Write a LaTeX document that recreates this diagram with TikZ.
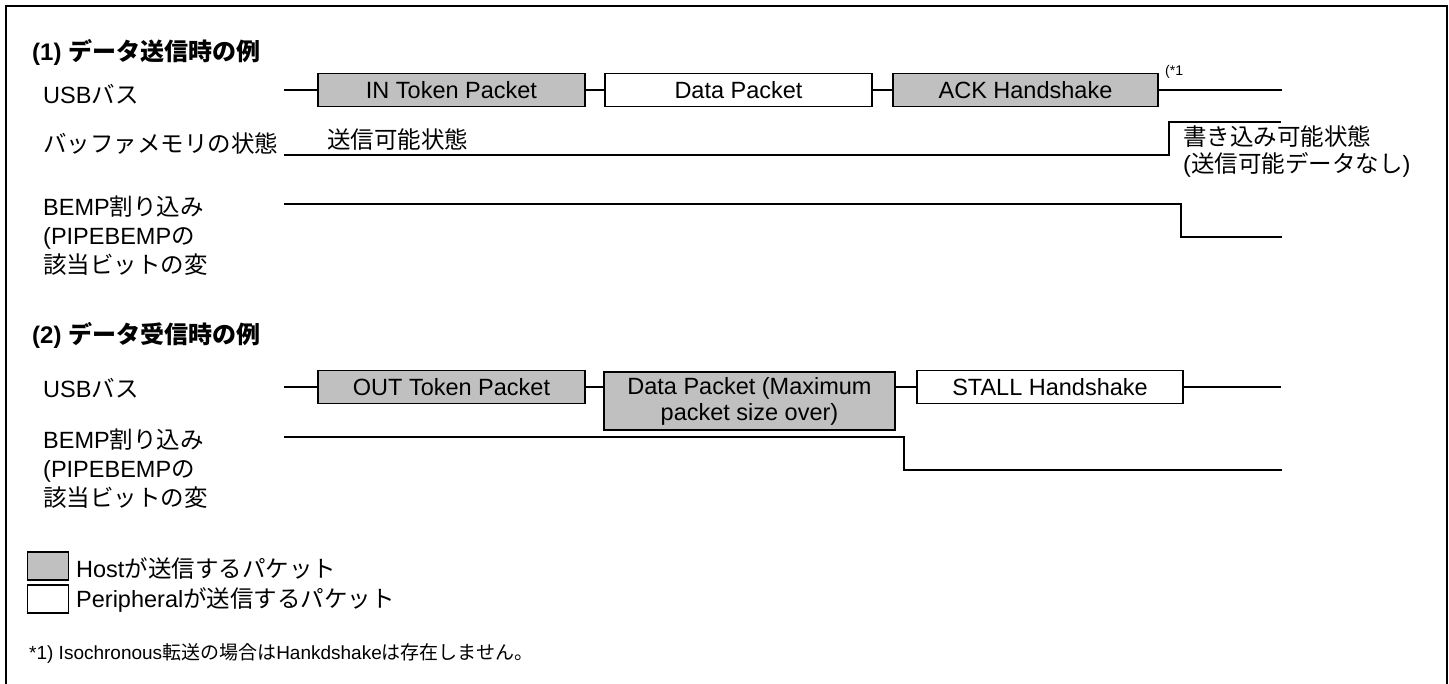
\documentclass[tikz,border=0pt]{standalone}
\usepackage{fontspec}
\setmainfont{Liberation Sans}
\newfontfamily\jpfont{Noto Sans CJK JP}
\newcommand{\ja}[1]{{\jpfont #1}}
\definecolor{hostgray}{HTML}{C0C0C0}

\begin{document}
\begin{tikzpicture}[x=1pt,y=-1pt]
\tikzset{every node/.style={inner sep=0pt,font=\fontsize{23.5}{29}\selectfont}}
\tikzset{label text/.style={anchor=west,align=left}}
\tikzset{title text/.style={anchor=west,font=\fontsize{24}{29}\selectfont\bfseries}}
\tikzset{packet/.style={draw,line width=1.8pt,minimum height=33pt,align=center}}
\tikzset{host packet/.style={packet,fill=hostgray}}
\tikzset{signal/.style={line width=1.6pt}}

\useasboundingbox (0,0) rectangle (1449,683);
\draw[line width=2.5pt] (6,690) -- (6,6) -- (1447,6) -- (1447,690);

\node[title text] (title1) at (32,52) {(1) \ja{データ送信時の例}};
\node[label text] (usb1) at (43,94) {USB\ja{バス}};
\node[label text] (buf1) at (43,143) {\ja{バッファメモリの状態}};
\node[label text] (bemp1) at (43,236) {BEMP\ja{割り込み}\\(PIPEBEMP\ja{の}\\\ja{該当ビットの変}};

\coordinate (u1s) at (284,90);
\coordinate (u1e) at (1282,90);
\node[host packet,minimum width=267pt] (intok) at (451.5,90) {IN Token Packet};
\node[packet,minimum width=267pt] (data1) at (738.5,90) {Data Packet};
\node[host packet,minimum width=265pt] (ack) at (1025.5,90) {ACK Handshake};
\node[anchor=west,font=\fontsize{14}{16}\selectfont] (note1) at (1165,72) {(*1};
\draw[signal] (u1s) -- (intok.west);
\draw[signal] (intok.east) -- (data1.west);
\draw[signal] (data1.east) -- (ack.west);
\draw[signal] (ack.east) -- (u1e);

\coordinate (b1s) at (284,155);
\coordinate (b1x) at (1169,122);
\coordinate (b1e) at (1281,122);
\draw[signal] (b1s) -| (b1x) -- (b1e);
\node[label text] (sendok) at (327,140) {\ja{送信可能状態}};
\node[label text,font=\fontsize{23.5}{27}\selectfont] (writeok) at (1183,151) {\ja{書き込み可能状態}\\(\ja{送信可能データなし})};

\coordinate (e1s) at (284,204);
\coordinate (e1x) at (1181,237);
\coordinate (e1e) at (1282,237);
\draw[signal] (e1s) -| (e1x) -- (e1e);

\node[title text] (title2) at (32,335) {(2) \ja{データ受信時の例}};
\node[label text] (usb2) at (43,388) {USB\ja{バス}};
\node[label text] (bemp2) at (43,469) {BEMP\ja{割り込み}\\(PIPEBEMP\ja{の}\\\ja{該当ビットの変}};

\coordinate (u2s) at (284,387);
\coordinate (u2e) at (1281,387);
\node[host packet,minimum width=267pt] (outtok) at (451.5,387) {OUT Token Packet};
\node[host packet,minimum width=291pt,minimum height=58pt,font=\fontsize{23.5}{26}\selectfont] (data2) at (749.5,401) {Data Packet (Maximum\\packet size over)};
\node[packet,minimum width=266pt] (stall) at (1050,387) {STALL Handshake};
\draw[signal] (u2s) -- (outtok.west);
\draw[signal] (outtok.east) -- (outtok.east -| data2.west);
\draw[signal] (data2.east |- stall.west) -- (stall.west);
\draw[signal] (stall.east) -- (u2e);

\coordinate (e2s) at (284,437);
\coordinate (e2x) at (904,470);
\coordinate (e2e) at (1282,470);
\draw[signal] (e2s) -| (e2x) -- (e2e);

\node[draw,line width=1.5pt,fill=hostgray,minimum width=41pt,minimum height=28pt] (hostkey) at (48,566) {};
\node[draw,line width=1.5pt,fill=white,minimum width=41pt,minimum height=28pt] (perikey) at (48,599) {};
\node[label text] (hosttxt) at (76,568) {Host\ja{が送信するパケット}};
\node[label text] (peritxt) at (76,600) {Peripheral\ja{が送信するパケット}};
\node[label text,font=\fontsize{19}{22}\selectfont] (fnote) at (29,653) {*1) Isochronous\ja{転送の場合は}Hankdshake\ja{は存在しません。}};
\end{tikzpicture}
\end{document}
